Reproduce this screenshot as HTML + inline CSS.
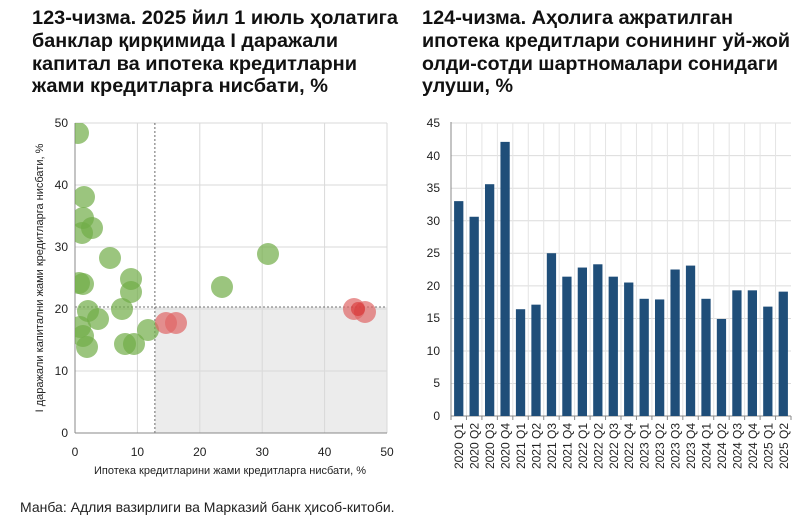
<!DOCTYPE html>
<html><head><meta charset="utf-8"><style>
body{margin:0;background:#fff;}
svg{display:block;font-family:"Liberation Sans",sans-serif;}
</style></head><body>
<svg width="800" height="521" viewBox="0 0 800 521">
<g font-weight="bold" font-size="19" fill="#111">
<text x="32" y="24" textLength="366" lengthAdjust="spacingAndGlyphs">123-чизма. 2025 йил 1 июль ҳолатига</text>
<text x="32" y="47" textLength="306" lengthAdjust="spacingAndGlyphs">банклар қирқимида I даражали</text>
<text x="32" y="70" textLength="325" lengthAdjust="spacingAndGlyphs">капитал ва ипотека кредитларни</text>
<text x="32" y="92" textLength="296" lengthAdjust="spacingAndGlyphs">жами кредитларга нисбати, %</text>
<text x="422" y="24" textLength="311" lengthAdjust="spacingAndGlyphs">124-чизма. Аҳолига ажратилган</text>
<text x="422" y="47" textLength="368" lengthAdjust="spacingAndGlyphs">ипотека кредитлари сонининг уй-жой</text>
<text x="422" y="70" textLength="356" lengthAdjust="spacingAndGlyphs">олди-сотди шартномалари сонидаги</text>
<text x="422" y="92" textLength="91" lengthAdjust="spacingAndGlyphs">улуши, %</text>
</g>

<!-- Left scatter -->
<rect x="155" y="307" width="232" height="126" fill="#ececec"/>
<g stroke="#d9d9d9" stroke-width="1">
<line x1="137.4" y1="123" x2="137.4" y2="433"/><line x1="199.8" y1="123" x2="199.8" y2="433"/>
<line x1="262.2" y1="123" x2="262.2" y2="433"/><line x1="324.6" y1="123" x2="324.6" y2="433"/>
<line x1="387" y1="123" x2="387" y2="433"/>
<line x1="75" y1="123" x2="387" y2="123"/><line x1="75" y1="185" x2="387" y2="185"/>
<line x1="75" y1="247" x2="387" y2="247"/><line x1="75" y1="309" x2="387" y2="309"/>
<line x1="75" y1="371" x2="387" y2="371"/>
</g>
<g stroke="#444" stroke-dasharray="2,2" stroke-width="0.8">
<line x1="154.9" y1="123" x2="154.9" y2="433"/>
<line x1="75" y1="307" x2="387" y2="307"/>
</g>
<line x1="75" y1="123" x2="75" y2="433" stroke="#888"/>
<line x1="75" y1="433" x2="387" y2="433" stroke="#888"/>
<clipPath id="c"><rect x="75" y="123" width="312" height="310"/></clipPath>
<g clip-path="url(#c)" fill="#70ad47" fill-opacity="0.7">
<circle cx="94" cy="112" r="11"/>
<circle cx="78" cy="133" r="11"/>
<circle cx="84" cy="197" r="11"/>
<circle cx="83" cy="218" r="11"/>
<circle cx="82" cy="233" r="11"/>
<circle cx="92" cy="228" r="11"/>
<circle cx="110" cy="258" r="11"/>
<circle cx="79" cy="283" r="11"/>
<circle cx="83" cy="284" r="11"/>
<circle cx="131" cy="279" r="11"/>
<circle cx="131" cy="292" r="11"/>
<circle cx="88" cy="311" r="11"/>
<circle cx="98" cy="319" r="11"/>
<circle cx="122" cy="309" r="11"/>
<circle cx="80" cy="327" r="11"/>
<circle cx="83" cy="336" r="11"/>
<circle cx="87" cy="347" r="11"/>
<circle cx="125" cy="344" r="11"/>
<circle cx="134" cy="344" r="11"/>
<circle cx="148" cy="330" r="11"/>
<circle cx="222" cy="287" r="11"/>
<circle cx="268" cy="254" r="11"/>
</g>
<g fill="#e06666" fill-opacity="0.7">
<circle cx="166" cy="323" r="11"/>
<circle cx="176" cy="323" r="11"/>
<circle cx="354" cy="309" r="11"/>
<circle cx="365" cy="312" r="11"/>
</g>
<circle cx="358" cy="309" r="7" fill="#d62020" fill-opacity="0.5"/>
<g font-size="12" fill="#222" text-anchor="end">
<text x="68" y="127">50</text><text x="68" y="189">40</text><text x="68" y="251">30</text>
<text x="68" y="313">20</text><text x="68" y="375">10</text><text x="68" y="437">0</text>
</g>
<g font-size="12" fill="#222" text-anchor="middle">
<text x="75" y="456">0</text><text x="137.4" y="456">10</text><text x="199.8" y="456">20</text>
<text x="262.2" y="456">30</text><text x="324.6" y="456">40</text><text x="387" y="456">50</text>
<text x="230" y="474" font-size="11">Ипотека кредитларини жами кредитларга нисбати, %</text>
<text transform="translate(43,278) rotate(-90)" font-size="11">I даражали капитални жами кредитларга нисбати, %</text>
</g>

<!-- Right bar chart -->
<g stroke="#dcdcdc" stroke-width="1">
<line x1="451" y1="123" x2="791" y2="123"/><line x1="451" y1="155.6" x2="791" y2="155.6"/>
<line x1="451" y1="188.2" x2="791" y2="188.2"/><line x1="451" y1="220.8" x2="791" y2="220.8"/>
<line x1="451" y1="253.3" x2="791" y2="253.3"/><line x1="451" y1="285.9" x2="791" y2="285.9"/>
<line x1="451" y1="318.5" x2="791" y2="318.5"/><line x1="451" y1="351" x2="791" y2="351"/>
<line x1="451" y1="383.5" x2="791" y2="383.5"/>
</g>
<g id="vg" stroke="#e4e4e4"></g>
<line x1="451" y1="122" x2="451" y2="416" stroke="#888"/>
<line x1="451" y1="416" x2="791" y2="416" stroke="#888"/>
<g font-size="12" fill="#222" text-anchor="end">
<text x="440" y="127">45</text><text x="440" y="160">40</text><text x="440" y="192">35</text>
<text x="440" y="225">30</text><text x="440" y="257">25</text><text x="440" y="290">20</text>
<text x="440" y="322">15</text><text x="440" y="355">10</text><text x="440" y="387">5</text>
<text x="440" y="420">0</text>
</g>
<g id="bars"></g>
<text x="20" y="512" font-size="14" fill="#222">Манба: Адлия вазирлиги ва Марказий банк ҳисоб-китоби.</text>
</svg>
<script>
var v=[33,30.6,35.6,42.1,16.4,17.1,25,21.4,22.8,23.3,21.4,20.5,18,17.9,22.5,23.1,18,14.9,19.3,19.3,16.8,19.1];
var l=["2020 Q1","2020 Q2","2020 Q3","2020 Q4","2021 Q1","2021 Q2","2021 Q3","2021 Q4","2022 Q1","2022 Q2","2022 Q3","2022 Q4","2023 Q1","2023 Q2","2023 Q3","2023 Q4","2024 Q1","2024 Q2","2024 Q3","2024 Q4","2025 Q1","2025 Q2"];
var ns="http://www.w3.org/2000/svg",g=document.getElementById("bars"),vg=document.getElementById("vg");
var x0=451,w=340/22,y0=416,k=(416-123)/45;
function el(t,a,p){var e=document.createElementNS(ns,t);for(var q in a)e.setAttribute(q,a[q]);p.appendChild(e);return e;}
for(var i=0;i<22;i++){
 var xs=x0+i*w;
 if(i>0)el("line",{x1:xs,y1:123,x2:xs,y2:416},vg);
 el("line",{x1:xs,y1:416,x2:xs,y2:420,stroke:"#888"},g);
 var h=v[i]*k;
 el("rect",{x:xs+w*0.2,y:y0-h,width:w*0.6,height:h,fill:"#1f4e79"},g);
 var t=el("text",{transform:"translate("+(xs+w/2+4.5)+",423) rotate(-90)","font-size":"12",fill:"#222","text-anchor":"end"},g);
 t.textContent=l[i];
}
el("line",{x1:791,y1:416,x2:791,y2:420,stroke:"#888"},g);
</script>
</body></html>
